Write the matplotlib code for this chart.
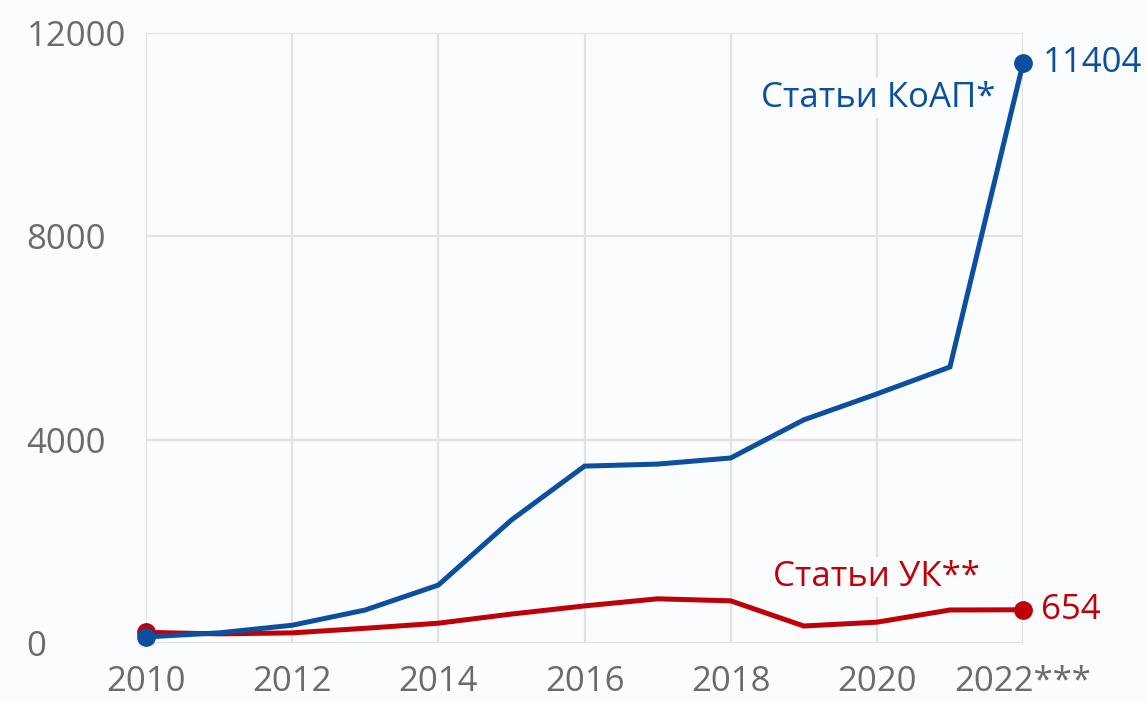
import matplotlib.pyplot as plt

years = [2010, 2011, 2012, 2013, 2014, 2015, 2016, 2017, 2018, 2019, 2020, 2021, 2022]
koap = [120, 200, 350, 650, 1140, 2420, 3480, 3520, 3640, 4390, 4900, 5430, 11404]
uk = [210, 180, 200, 290, 390, 570, 730, 870, 830, 335, 410, 650, 654]
x_ticks = [2010, 2012, 2014, 2016, 2018, 2020, 2022]
x_labels = ['2010', '2012', '2014', '2016', '2018', '2020', '2022***']
y_ticks = [0, 4000, 8000, 12000]

blue = '#0b4f9e'
red = '#c00008'
bg = '#fbfcfe'

plt.rcParams['font.family'] = ['Open Sans', 'DejaVu Sans']

fig = plt.figure(figsize=(11.47, 7.02), dpi=100, facecolor=bg)
ax = fig.add_axes([0.1273, 0.0840, 0.7646, 0.8690], facecolor=bg)

ax.plot(years, uk, color=red, lw=3.6, solid_joinstyle='miter', clip_on=False, zorder=3)
ax.plot(years, koap, color=blue, lw=3.6, solid_joinstyle='miter', clip_on=False, zorder=4)
ax.plot([years[0], years[-1]], [uk[0], uk[-1]], 'o', color=red, ms=12.5, clip_on=False, zorder=3)
ax.plot([years[0], years[-1]], [koap[0], koap[-1]], 'o', color=blue, ms=12.5, clip_on=False, zorder=4)

ax.set_xlim(2010, 2022)
ax.set_ylim(0, 12000)
ax.set_xticks(x_ticks)
ax.set_xticklabels(x_labels)
ax.set_yticks(y_ticks)
ax.tick_params(length=0, labelsize=25, labelcolor='#6b6b6b')
ax.tick_params(axis='y', pad=86)
ax.tick_params(axis='x', pad=16)
for t in ax.get_yticklabels():
    t.set_horizontalalignment('left')
ax.grid(True, color='#e2e2e4', lw=1.6)
ax.set_axisbelow(True)
for s in ax.spines.values():
    s.set_visible(False)

ax.text(2022.27, koap[-1], str(koap[-1]), color=blue, fontsize=25, va='center', ha='left')
ax.text(2022.25, uk[-1], str(uk[-1]), color=red, fontsize=25, va='center', ha='left')
ax.text(2021.62, 10720, 'Статьи КоАП*', color=blue, fontsize=25, va='center', ha='right',
        bbox=dict(facecolor=bg, edgecolor='none', pad=2))
ax.text(2020.0, 1300, 'Статьи УК**', color=red, fontsize=25, va='center', ha='center',
        bbox=dict(facecolor=bg, edgecolor='none', pad=2))

fig.savefig('out.png', dpi=100, facecolor=bg)
